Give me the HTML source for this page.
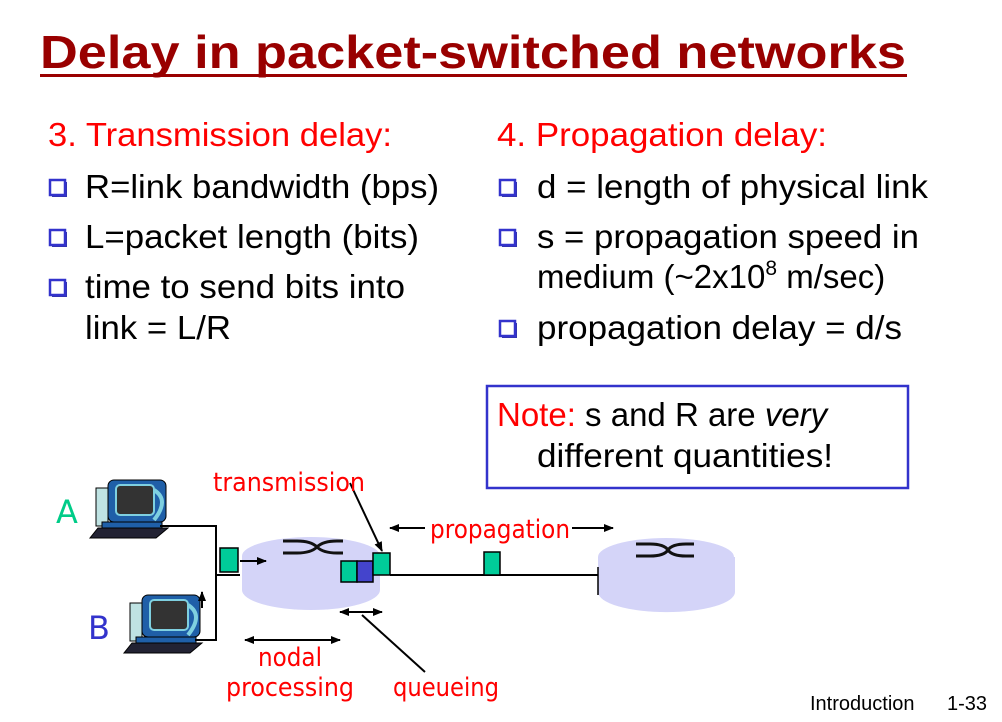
<!DOCTYPE html>
<html><head><meta charset="utf-8"><style>
html,body{margin:0;padding:0;background:#fff;}
svg{display:block;}
.t{font-family:"Liberation Sans",sans-serif;}
.c{font-family:"DejaVu Sans","Liberation Sans",sans-serif;}
</style></head><body>
<svg width="1002" height="722" viewBox="0 0 1002 722" xmlns="http://www.w3.org/2000/svg">
<defs>
<marker id="ah" markerWidth="10" markerHeight="8" refX="9" refY="4" orient="auto" markerUnits="userSpaceOnUse"><path d="M0,0 L10,4 L0,8 z" fill="#000"/></marker>
<g id="bul"><rect x="2" y="2" width="15" height="15" fill="#3333aa"/><rect x="0" y="0" width="15" height="15" fill="#fff" stroke="#3333cc" stroke-width="2.5"/></g>
<g id="pc">
<rect x="0" y="8" width="12" height="38" fill="#bfe3e3" stroke="#000" stroke-width="1"/>
<rect x="12" y="0" width="58" height="42" rx="6" fill="#1f5fa8" stroke="#000"/>
<rect x="20" y="5" width="38" height="30" rx="4" fill="#333" stroke="#7fd0e0" stroke-width="2"/>
<path d="M58,10 q16,10 0,30" fill="none" stroke="#7fd0e0" stroke-width="4"/>
<path d="M2,48 L72,48 L60,58 L-6,58 z" fill="#223" stroke="#000"/>
<rect x="6" y="42" width="60" height="6" fill="#1f5fa8" stroke="#000"/>
</g>
</defs>

<text class="t" x="40" y="68" font-size="46" font-weight="bold" fill="#990000" textLength="866" lengthAdjust="spacingAndGlyphs">Delay in packet-switched networks</text>
<rect x="40" y="74" width="867" height="3" fill="#990000"/>

<g class="t" font-size="33">
<text x="48" y="146" fill="#ff0000" textLength="344" lengthAdjust="spacingAndGlyphs">3. Transmission delay:</text>
<use href="#bul" x="50" y="180"/>
<text x="85" y="198" textLength="354" lengthAdjust="spacingAndGlyphs">R=link bandwidth (bps)</text>
<use href="#bul" x="50" y="230"/>
<text x="85" y="248" textLength="334" lengthAdjust="spacingAndGlyphs">L=packet length (bits)</text>
<use href="#bul" x="50" y="280"/>
<text x="85" y="298" textLength="320" lengthAdjust="spacingAndGlyphs">time to send bits into</text>
<text x="85" y="339" textLength="146" lengthAdjust="spacingAndGlyphs">link = L/R</text>

<text x="497" y="146" fill="#ff0000" textLength="330" lengthAdjust="spacingAndGlyphs">4. Propagation delay:</text>
<use href="#bul" x="500" y="180"/>
<text x="537" y="198" textLength="391" lengthAdjust="spacingAndGlyphs">d = length of physical link</text>
<use href="#bul" x="500" y="230"/>
<text x="537" y="248" textLength="382" lengthAdjust="spacingAndGlyphs">s = propagation speed in</text>
<text x="537" y="288">medium (~2x10<tspan font-size="21" dy="-13">8</tspan><tspan dy="13"> m/sec)</tspan></text>
<use href="#bul" x="500" y="321"/>
<text x="537" y="339" textLength="365" lengthAdjust="spacingAndGlyphs">propagation delay = d/s</text>
</g>

<rect x="487" y="386" width="421" height="102" fill="#fff" stroke="#3333cc" stroke-width="2.5"/>
<g class="t" font-size="33">
<text x="497" y="426"><tspan fill="#ff0000">Note:</tspan> s and R are <tspan font-style="italic">very</tspan></text>
<text x="537" y="467" textLength="296" lengthAdjust="spacingAndGlyphs">different quantities!</text>
</g>

<!-- routers -->
<g>
<path d="M242,556 L242,590 A69,20 0 0 0 380,590 L380,556 z" fill="#d4d4f8"/>
<ellipse cx="311" cy="556" rx="69" ry="19" fill="#d4d4f8"/>
<path d="M283,541 h14 q14,0 20,6 q6,6 20,6 h6 M283,553 h14 q14,0 20,-6 q6,-6 20,-6 h6" fill="none" stroke="#111" stroke-width="3"/>
<path d="M598,557 L598,592 A68,20 0 0 0 735,592 L735,557 z" fill="#d4d4f8"/>
<ellipse cx="666" cy="557" rx="68" ry="19" fill="#d4d4f8"/>
<path d="M636,544 h14 q14,0 18,6 q4,6 18,6 h8 M636,556 h14 q14,0 18,-6 q4,-6 18,-6 h8" fill="none" stroke="#111" stroke-width="3"/>
</g>

<use href="#pc" x="96" y="480"/>
<use href="#pc" x="130" y="595"/>

<g stroke="#000" stroke-width="2" fill="none">
<path d="M160,526 H216 V640 H195"/>
<path d="M216,575 H240"/>
<path d="M390,575 H598"/>
<path d="M598,567 V595" stroke-width="1.5"/>
<path d="M240,561 H266" marker-end="url(#ah)"/>
<path d="M202,608 V592" marker-end="url(#ah)"/>
<path d="M350,483 L382,551" marker-end="url(#ah)"/>
<path d="M425,528 H390" marker-end="url(#ah)"/>
<path d="M572,528 H613" marker-end="url(#ah)"/>
<path d="M292,640 H245" marker-end="url(#ah)"/>
<path d="M292,640 H340" marker-end="url(#ah)"/>
<path d="M361,612 H340" marker-end="url(#ah)"/>
<path d="M361,612 H382" marker-end="url(#ah)"/>
<path d="M362,615 L425,672"/>
</g>
<g stroke="#000" stroke-width="1.5">
<rect x="220" y="548" width="18" height="24" fill="#00cc99"/>
<rect x="341" y="561" width="16" height="21" fill="#00cc99"/>
<rect x="357" y="561" width="16" height="21" fill="#4444cc"/>
<rect x="373" y="553" width="17" height="22" fill="#00cc99"/>
<rect x="484" y="552" width="16" height="23" fill="#00cc99"/>
</g>

<g class="c" font-size="26" fill="#ff0000">
<text x="213" y="491" textLength="152" lengthAdjust="spacingAndGlyphs">transmission</text>
<text x="430" y="538" textLength="140" lengthAdjust="spacingAndGlyphs">propagation</text>
<text x="258" y="666" textLength="64" lengthAdjust="spacingAndGlyphs">nodal</text>
<text x="226" y="696" textLength="128" lengthAdjust="spacingAndGlyphs">processing</text>
<text x="393" y="696" textLength="106" lengthAdjust="spacingAndGlyphs">queueing</text>
</g>
<text class="c" x="56" y="523" font-size="32" fill="#00cc88">A</text>
<text class="c" x="88" y="639" font-size="32" fill="#3333cc">B</text>

<text class="t" x="810" y="710" font-size="20">Introduction</text>
<text class="t" x="947" y="710" font-size="20">1-33</text>
</svg>
</body></html>
